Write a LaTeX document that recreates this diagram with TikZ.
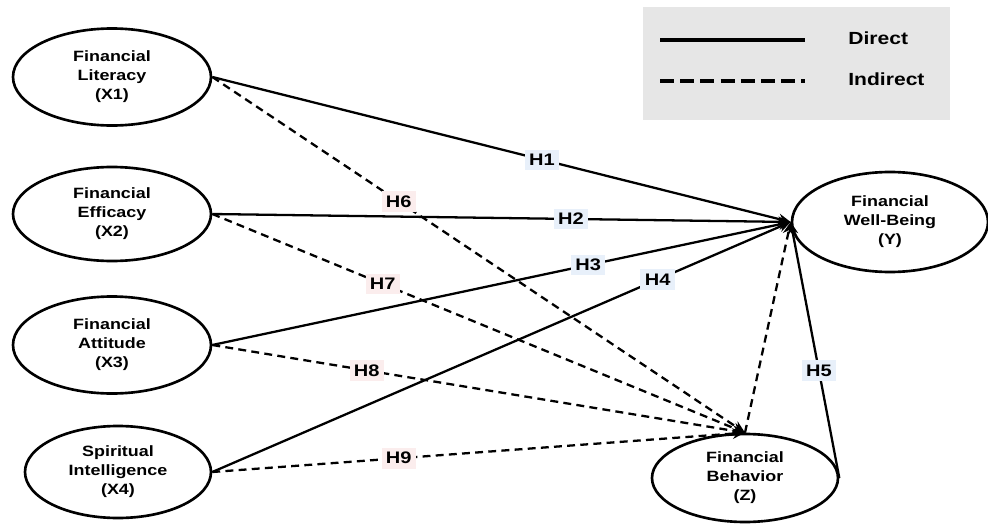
\documentclass[tikz,border=0pt]{standalone}
\usepackage{fontspec}
\setmainfont{Liberation Sans}[FakeStretch=1.2]
\usepackage{xcolor}
\usetikzlibrary{shapes.geometric}
\usetikzlibrary{arrows.meta}
\definecolor{custom-gray}{RGB}{230, 230, 230}
\definecolor{custom-blue}{RGB}{232, 240, 250}
\definecolor{custom-pink}{RGB}{251, 237, 237}
\tikzset{
  construct/.style={ellipse, draw=black, line width=1.5pt, inner sep=0pt, align=center,
    font=\fontsize{8.5}{10.8}\selectfont\bfseries},
  direct/.style={line width=1.3pt, -{Stealth[length=7pt, width=6pt]}},
  indirect/.style={line width=1.3pt, dash pattern=on 4.5pt off 3pt, -{Stealth[length=7pt, width=6pt]}},
  hyp/.style={fill=custom-blue, inner sep=2.5pt, font=\fontsize{9.5}{10}\selectfont\bfseries},
  hypind/.style={hyp, fill=custom-pink},
  legendtxt/.style={anchor=west, inner sep=0pt, font=\fontsize{10}{12}\selectfont\bfseries}
}
\begin{document}
\begin{tikzpicture}[x=0.02cm, y=-0.02cm]
\useasboundingbox (0,0) rectangle (988,524);
% legend
\fill[custom-gray] (643,7) rectangle (950,120);
\coordinate (sola) at (660,40); \coordinate (solb) at (805,40);
\coordinate (dasha) at (660,81); \coordinate (dashb) at (805,81);
\draw[line width=2pt] (sola) -- (solb);
\draw[line width=2pt, dash pattern=on 8pt off 3.5pt] (dasha) -- (dashb);
\node[legendtxt] (ldirect) at (848,38) {Direct};
\node[legendtxt] (lindirect) at (848,79) {Indirect};
% constructs
\node[construct, minimum width=198*0.02cm, minimum height=97*0.02cm] (x1) at (112,77) {Financial\\Literacy\\(X1)};
\node[construct, minimum width=198*0.02cm, minimum height=94*0.02cm] (x2) at (112,214) {Financial\\Efficacy\\(X2)};
\node[construct, minimum width=198*0.02cm, minimum height=97*0.02cm] (x3) at (112,345) {Financial\\Attitude\\(X3)};
\node[construct, minimum width=186*0.02cm, minimum height=92*0.02cm] (x4) at (118,472) {Spiritual\\Intelligence\\(X4)};
\node[construct, minimum width=196*0.02cm, minimum height=100*0.02cm] (y) at (890,222) {Financial\\Well-Being\\(Y)};
\node[construct, minimum width=186*0.02cm, minimum height=88*0.02cm] (z) at (745,478) {Financial\\Behavior\\(Z)};
% direct paths
\draw[direct] (x1.east) -- node[hyp, pos=0.57] (h1) {H1} (y.west);
\draw[direct] (x2.east) -- node[hyp, pos=0.62] (h2) {H2} (y.west);
\draw[direct] (x3.east) -- node[hyp, pos=0.65] (h3) {H3} (y.west);
\draw[direct] (x4.east) -- node[hyp, pos=0.77] (h4) {H4} (y.west);
\draw[direct] (z.east) -- node[hyp, pos=0.42] (h5) {H5} (y.west);
% indirect paths
\draw[indirect] (x1.east) -- node[hypind, pos=0.35] (h6) {H6} (z.north);
\draw[indirect] (x2.east) -- node[hypind, pos=0.32] (h7) {H7} (z.north);
\draw[indirect] (x3.east) -- node[hypind, pos=0.29] (h8) {H8} (z.north);
\draw[indirect] (x4.east) -- node[hypind, pos=0.35] (h9) {H9} (z.north);
\draw[indirect] (z.north) -- (y.west);
\end{tikzpicture}
\end{document}
